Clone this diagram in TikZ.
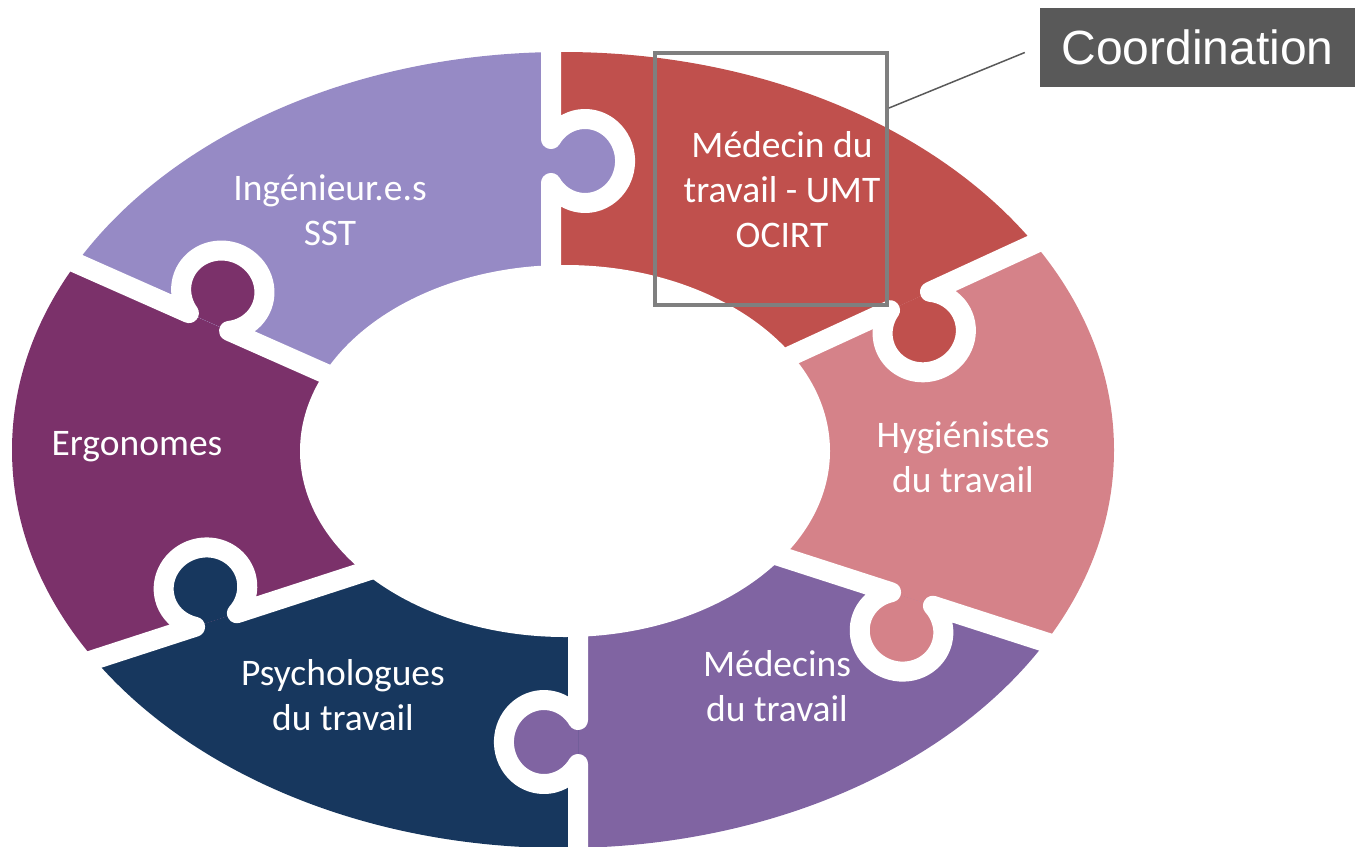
\documentclass[tikz,border=0pt]{standalone}
\usepackage{fontspec}
\setmainfont{Carlito}
\newfontfamily\coordfont{Liberation Sans}
\usepackage{xcolor}
\definecolor{p_lav}{HTML}{968AC5}
\definecolor{p_red}{HTML}{C0504D}
\definecolor{p_pink}{HTML}{D58289}
\definecolor{p_purple}{HTML}{8064A2}
\definecolor{p_navy}{HTML}{17375E}
\definecolor{p_mag}{HTML}{7B316A}
\definecolor{g_frame}{HTML}{7F7F7F}
\definecolor{g_dark}{HTML}{595959}

\tikzset{
  piecelbl/.style={text=white, align=center, inner sep=0pt, font=\fontsize{37.5}{45}\selectfont},
  gapline/.style={white, line width=20pt, line join=round},
  coordframe/.style={draw=g_frame, line width=4pt, minimum width=232pt, minimum height=252pt, inner sep=0pt},
  coordtag/.style={fill=g_dark, text=white, inner sep=0pt, minimum width=315pt, minimum height=79pt, font=\coordfont\fontsize{48}{56}\selectfont},
  coordlink/.style={draw=g_dark, line width=1.5pt}
}

\begin{document}
\begin{tikzpicture}[x=1pt,y=-1pt]
\useasboundingbox (0,0) rectangle (1360,846);

% ring pieces
\begin{scope}
\clip (565,451) -- (551,286) -- (551,-539) -- (1546,8) -- (765,368) -- cycle;
\fill[p_red] (563,450) ellipse [x radius=551, y radius=398];
\end{scope}
\begin{scope}
\clip (565,451) -- (765,368) -- (1546,8) -- (1578,815) -- (769,553) -- cycle;
\fill[p_pink] (563,450) ellipse [x radius=551, y radius=398];
\end{scope}
\begin{scope}
\clip (565,451) -- (769,553) -- (1578,815) -- (578,1442) -- (578,617) -- cycle;
\fill[p_purple] (563,450) ellipse [x radius=551, y radius=398];
\end{scope}
\begin{scope}
\clip (565,451) -- (578,617) -- (578,1442) -- (-450,836) -- (382,566) -- cycle;
\fill[p_navy] (563,450) ellipse [x radius=551, y radius=398];
\end{scope}
\begin{scope}
\clip (565,451) -- (382,566) -- (-450,836) -- (-431,38) -- (355,387) -- cycle;
\fill[p_mag] (563,450) ellipse [x radius=551, y radius=398];
\end{scope}
\begin{scope}
\clip (565,451) -- (355,387) -- (-431,38) -- (551,-539) -- (551,286) -- cycle;
\fill[p_lav] (563,450) ellipse [x radius=551, y radius=398];
\end{scope}

\fill[white] (565,451) ellipse [x radius=265, y radius=186];

% tabs and gaps
\foreach \mx/\my/\ang/\lin/\lout/\col in {551/161/90/125/140/p_lav, 910/301/24.7/160/170/p_red,
  912/599/-17.9/150/170/p_pink, 578/742/-90/125/130/p_purple,
  216/620/198/175/170/p_navy, 209/322/156.1/160/170/p_mag}
{
  \begin{scope}[shift={(\mx,\my)}, rotate=\ang]
    \fill[\col] (-22,0) arc [start angle=238.4, end angle=-58.4, x radius=42, y radius=40] -- cycle;
    \draw[gapline] (-\lin,0) -- (-22,0) arc [start angle=238.4, end angle=-58.4, x radius=42, y radius=40] -- (\lout,0);
  \end{scope}
}

\node[piecelbl] (lavlbl) at (330,210) {Ingénieur.e.s\\SST};
\node[piecelbl] (redlbl) at (782,190) {Médecin du\\travail - UMT\\OCIRT};
\node[piecelbl] (pinklbl) at (963,457) {Hygiénistes\\du travail};
\node[piecelbl] (purplbl) at (777,686) {Médecins\\du travail};
\node[piecelbl] (navylbl) at (343,695) {Psychologues\\du travail};
\node[piecelbl] (maglbl) at (137,447) {Ergonomes};

\node[coordframe] (coordbox) at (771,179) {};
\node[coordtag] (coordlbl) at (1197.5,47.5) {Coordination};
\draw[coordlink] ([yshift=-57pt]coordbox.north east) -- ([xshift=-15pt,yshift=-5pt]coordlbl.west);

\end{tikzpicture}
\end{document}
